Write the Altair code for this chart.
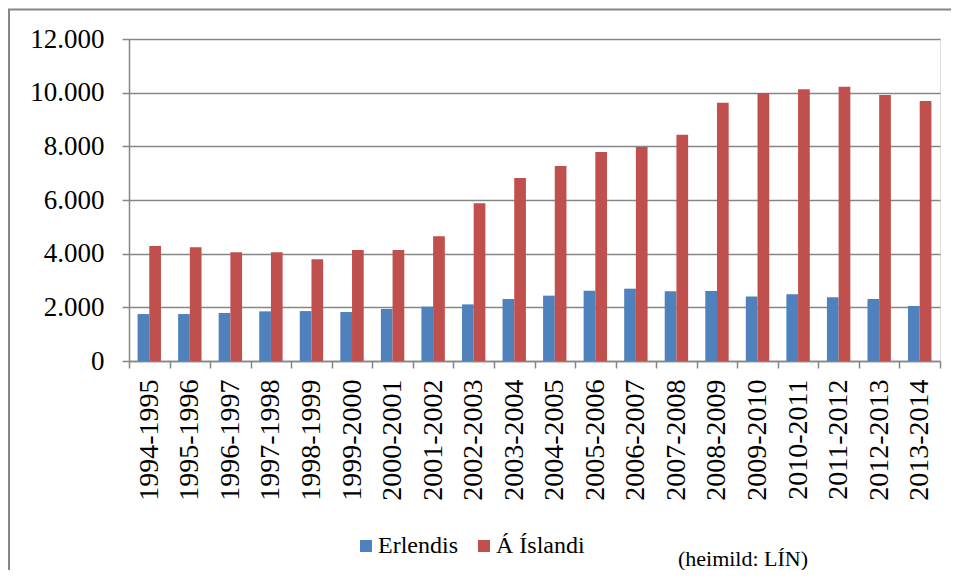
import altair as alt
import pandas as pd

years = ["1994-1995", "1995-1996", "1996-1997", "1997-1998", "1998-1999",
         "1999-2000", "2000-2001", "2001-2002", "2002-2003", "2003-2004",
         "2004-2005", "2005-2006", "2006-2007", "2007-2008", "2008-2009",
         "2009-2010", "2010-2011", "2011-2012", "2012-2013", "2013-2014"]
erlendis = [1750, 1750, 1790, 1850, 1860, 1825, 1940, 2025, 2110, 2310,
            2435, 2620, 2695, 2595, 2610, 2400, 2485, 2375, 2310, 2050]
islandi = [4285, 4235, 4050, 4050, 3790, 4135, 4135, 4645, 5875, 6820,
           7265, 7790, 7975, 8435, 9625, 9990, 10125, 10225, 9915, 9690]
series = ["Erlendis", "Á Íslandi"]
colors = ["#4F81BD", "#C0504D"]
y_ticks = [0, 2000, 4000, 6000, 8000, 10000, 12000]
source_note = ["(heimild: LÍN)"]

rows = []
for i, yr in enumerate(years):
    rows.append({"ar": yr, "flokkur": series[0], "fjoldi": erlendis[i]})
    rows.append({"ar": yr, "flokkur": series[1], "fjoldi": islandi[i]})
df = pd.DataFrame(rows)

GRAY = "#868686"
FONT = "Liberation Serif"

bars = alt.Chart(df).mark_bar().encode(
    x=alt.X("ar:N", sort=years,
            scale=alt.Scale(paddingInner=0, paddingOuter=0),
            axis=alt.Axis(title=None, labelAngle=-90, tickBand="extent",
                          labelFontSize=28, labelPadding=11, tickSize=7,
                          tickColor=GRAY, tickWidth=1.5, domainColor=GRAY,
                          domainWidth=1.5, grid=False, labelColor="black",
                          labelFont=FONT)),
    xOffset=alt.XOffset("flokkur:N", sort=series,
                        scale=alt.Scale(paddingInner=0, paddingOuter=0.733)),
    y=alt.Y("fjoldi:Q",
            scale=alt.Scale(domain=[0, 12000], nice=False),
            axis=alt.Axis(title=None, values=y_ticks,
                          labelExpr="replace(format(datum.value, ','), ',', '.')",
                          labelFontSize=27, labelPadding=18, tickSize=7,
                          tickColor=GRAY, tickWidth=1.5, domainColor=GRAY,
                          domainWidth=1.5, grid=True, gridColor=GRAY,
                          gridWidth=1.3, labelColor="black", labelFont=FONT)),
    color=alt.Color("flokkur:N", sort=series,
                    scale=alt.Scale(domain=series, range=colors),
                    legend=alt.Legend(title=None, orient="none", legendX=225,
                                      legendY=495, direction="horizontal",
                                      symbolType="square", symbolSize=144,
                                      symbolStrokeWidth=0, labelFontSize=24,
                                      labelFont=FONT, labelColor="black",
                                      labelOffset=0, columnPadding=14,
                                      padding=0)),
)

note = alt.Chart(pd.DataFrame({"t": source_note})).mark_text(
    align="center", baseline="alphabetic", fontSize=22, font=FONT, color="black"
).encode(x=alt.value(614), y=alt.value(527), text="t:N")

frame = alt.Chart(pd.DataFrame({"t": source_note})).mark_rect(
    fill="white", fillOpacity=0, stroke=GRAY, strokeWidth=2
).encode(x=alt.value(-120), x2=alt.value(1000), y=alt.value(-29.5), y2=alt.value(700))

chart = alt.layer(frame, bars, note).properties(
    width=811, height=322,
    autosize=alt.AutoSizeParams(type="none"),
    padding={"left": 121, "top": 31, "right": 11, "bottom": 209},
).configure_view(stroke=None).configure(font=FONT).configure_legend(
    labelFont=FONT, labelFontSize=24, labelColor="black"
).configure_text(font=FONT, fontSize=22)

chart.save("out.html", embed_options={"renderer": "svg", "actions": False})
